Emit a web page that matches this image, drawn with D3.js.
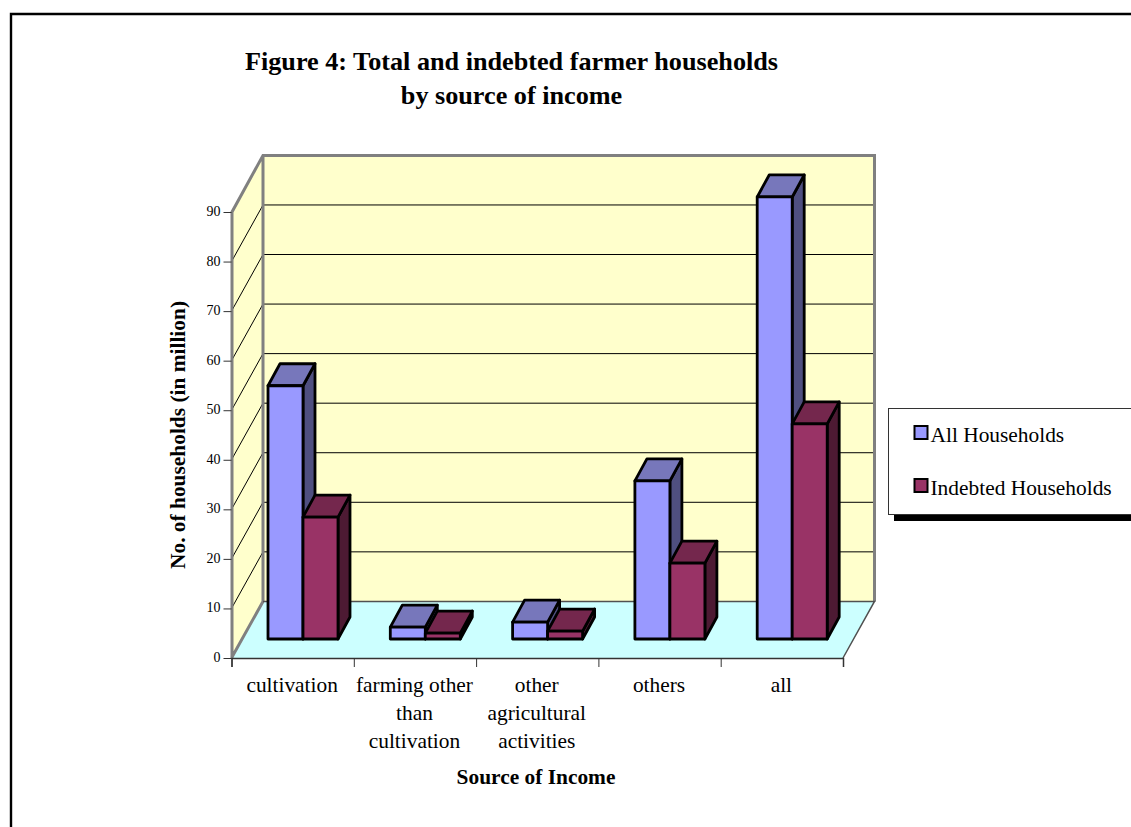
<!DOCTYPE html>
<html><head><meta charset="utf-8">
<script src="https://cdn.jsdelivr.net/npm/d3@7"></script>
<style>html,body{margin:0;padding:0;background:#fff}svg{display:block}text{font-family:"Liberation Serif",serif;fill:#000}</style>
</head><body><svg id="c" width="1131" height="827"></svg>
<script>
const categories=[["cultivation"],["farming other","than","cultivation"],["other","agricultural","activities"],["others"],["all"]];
const allHouseholds=[51.1,2.4,3.4,31.9,89.2];
const indebtedHouseholds=[24.6,1.2,1.6,15.3,43.4];
const seriesNames=["All Households","Indebted Households"];
const yTicks=[0,10,20,30,40,50,60,70,80,90];
const titleLines=["Figure 4: Total and indebted farmer households","by source of income"];

const svg=d3.select("#c");
const X0=231.5,X1=843,Y0=658,Y90=212;
const DX=31.5,DY=-56.6;         // wall depth
const BDX=12,BDY=-22,BW=35;     // bar depth & width
const BARFRONT=-19,BAROFF=36.5; // bar offset from the axis
const y=d3.scaleLinear().domain([0,90]).range([Y0,Y90]);
const edge=d3.scaleLinear().domain([0,5]).range([X0,X1]);
const band=d3.scaleBand().domain(d3.range(5)).range([X0,X1]);
const poly=p=>"M"+p.map(d=>d.join(",")).join("L")+"Z";

// frame
svg.append("path").attr("d",`M11,830V14H1135`).attr("fill","none").attr("stroke","#000").attr("stroke-width",2.4);

// title
svg.append("g").selectAll("text").data(titleLines).join("text")
 .attr("x",511.5).attr("y",(d,i)=>70+i*34).attr("text-anchor","middle")
 .attr("font-size",26.2).attr("font-weight","bold").text(d=>d);

// walls and floor
const gray="#808080";
svg.append("path").attr("d",poly([[X0+DX,y(90)+DY],[X1+DX,y(90)+DY],[X1+DX,Y0+DY],[X0+DX,Y0+DY]])).attr("fill","#ffffcc");
svg.append("path").attr("d",poly([[X0,y(90)],[X0+DX,y(90)+DY],[X0+DX,Y0+DY],[X0,Y0]])).attr("fill","#ffffcc");
svg.append("path").attr("d",poly([[X0,Y0],[X0+DX,Y0+DY],[X1+DX,Y0+DY],[X1,Y0]])).attr("fill","#ccffff");
// gridlines
const grid=svg.append("g").attr("fill","none").attr("stroke","#000").attr("stroke-width",1);
grid.selectAll("path").data(yTicks.slice(1)).join("path")
 .attr("d",d=>d===90?`M${X0},${y(d)}L${X0+DX},${y(d)+DY}`:`M${X0},${y(d)}L${X0+DX},${y(d)+DY}H${X1+DX-1}`);
// wall borders
svg.append("path").attr("fill","none").attr("stroke",gray).attr("stroke-width",3)
 .attr("d",`M${X0+.5},${Y0}V${y(90)}L${X0+DX},${y(90)+DY}H${X1+DX}V${Y0+DY}M${X0+DX},${y(90)+DY}V${Y0+DY}M${X0},${Y0}L${X0+DX},${Y0+DY}`);
svg.append("path").attr("fill","none").attr("stroke","#505050").attr("stroke-width",1.5)
 .attr("d",`M${X0+DX},${Y0+DY}H${X1+DX}L${X1},${Y0}`);

// axes
const yAxis=svg.append("g").attr("transform",`translate(${X0},0)`)
 .call(d3.axisLeft(y).tickValues(yTicks).tickSize(8).tickPadding(3));
yAxis.select(".domain").remove();
yAxis.selectAll("text").attr("font-size",14).attr("font-family","Liberation Serif").attr("fill","#000").attr("transform","translate(0,-1)");
yAxis.selectAll("line").attr("stroke","#333");
const xAxis=svg.append("g").attr("transform",`translate(0,${Y0})`)
 .call(d3.axisBottom(edge).tickValues(d3.range(6)).tickSize(9).tickFormat(""));
xAxis.select(".domain").attr("stroke","#333").attr("stroke-width",1.5);
xAxis.selectAll("line").attr("stroke","#333");

// bars
const colors=[{f:"#9999ff",t:"#7777bb",s:"#4f4f80"},{f:"#993366",t:"#74274d",s:"#4d1a33"}];
const series=[allHouseholds,indebtedHouseholds];
series.forEach((vals,si)=>{
 const c=colors[si];
 const g=svg.append("g").attr("stroke","#000").attr("stroke-width",2.8).attr("stroke-linejoin","round");
 vals.forEach((v,i)=>{
  const x=band(i)+BAROFF+si*BW, b=Y0+BARFRONT, h=y(0)-y(v), t=b-h;
  g.append("path").attr("d",poly([[x+BW,t],[x+BW+BDX,t+BDY],[x+BW+BDX,b+BDY],[x+BW,b]])).attr("fill",c.s);
  g.append("path").attr("d",poly([[x,t],[x+BDX,t+BDY],[x+BW+BDX,t+BDY],[x+BW,t]])).attr("fill",c.t);
  g.append("rect").attr("x",x).attr("y",t).attr("width",BW).attr("height",h).attr("fill",c.f);
 });
});

// category labels
categories.forEach((lines,i)=>{
 svg.append("g").selectAll("text").data(lines).join("text")
  .attr("x",band(i)+band.bandwidth()/2-0.5).attr("y",(d,j)=>692+j*28)
  .attr("text-anchor","middle").attr("font-size",21.4).text(d=>d);
});

// axis titles
svg.append("text").attr("x",536).attr("y",784).attr("text-anchor","middle").attr("font-size",21.4).attr("font-weight","bold").text("Source of Income");
svg.append("text").attr("transform","translate(185,435) rotate(-90)").attr("text-anchor","middle").attr("font-size",21.4).attr("font-weight","bold").text("No. of households (in million)");

// legend
svg.append("rect").attr("x",894).attr("y",416).attr("width",240).attr("height",105).attr("fill","#000");
svg.append("rect").attr("x",888.5).attr("y",408.5).attr("width",245).attr("height",106).attr("fill","#fff").attr("stroke","#333").attr("stroke-width",1);
const lg=svg.append("g").selectAll("g").data(seriesNames).join("g").attr("transform",(d,i)=>`translate(0,${i*53})`);
lg.append("rect").attr("x",914.5).attr("y",426).attr("width",13).attr("height",13).attr("fill",(d,i)=>colors[i].f).attr("stroke","#000").attr("stroke-width",2);
lg.append("text").attr("x",930.5).attr("y",442).attr("font-size",21.4).text(d=>d);
</script></body></html>
